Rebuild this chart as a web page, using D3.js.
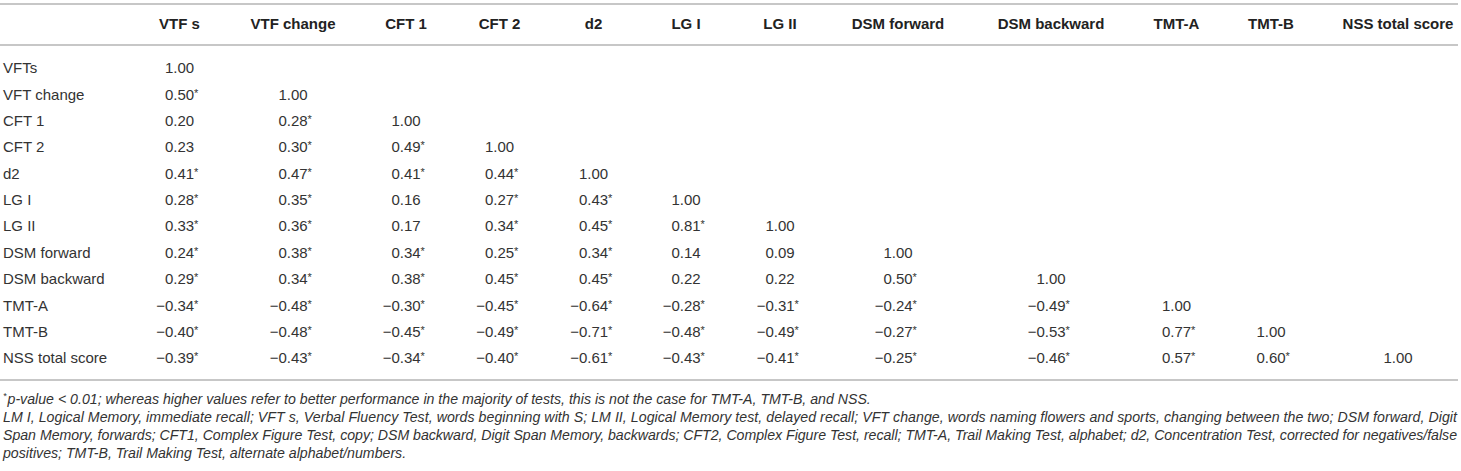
<!DOCTYPE html>
<html>
<head>
<meta charset="utf-8">
<script src="https://cdn.jsdelivr.net/npm/d3@7"></script>
<style>
  html, body { margin: 0; padding: 0; background: #fff; }
  svg { display: block; }
</style>
</head>
<body>
<svg id="chart" width="1461" height="471"></svg>
<script>
// ---- data ----
const columns = ["VTF s", "VTF change", "CFT 1", "CFT 2", "d2", "LG I", "LG II",
  "DSM forward", "DSM backward", "TMT-A", "TMT-B", "NSS total score"];
const rowLabels = ["VFTs", "VFT change", "CFT 1", "CFT 2", "d2", "LG I", "LG II",
  "DSM forward", "DSM backward", "TMT-A", "TMT-B", "NSS total score"];
const rVFTs = [1.00];
const rVFTchange = [0.50, 1.00];
const rCFT1 = [0.20, 0.28, 1.00];
const rCFT2 = [0.23, 0.30, 0.49, 1.00];
const rD2 = [0.41, 0.47, 0.41, 0.44, 1.00];
const rLG1 = [0.28, 0.35, 0.16, 0.27, 0.43, 1.00];
const rLG2 = [0.33, 0.36, 0.17, 0.34, 0.45, 0.81, 1.00];
const rDSMf = [0.24, 0.38, 0.34, 0.25, 0.34, 0.14, 0.09, 1.00];
const rDSMb = [0.29, 0.34, 0.38, 0.45, 0.45, 0.22, 0.22, 0.50, 1.00];
const rTMTA = [-0.34, -0.48, -0.30, -0.45, -0.64, -0.28, -0.31, -0.24, -0.49, 1.00];
const rTMTB = [-0.40, -0.48, -0.45, -0.49, -0.71, -0.48, -0.49, -0.27, -0.53, 0.77, 1.00];
const rNSS = [-0.39, -0.43, -0.34, -0.40, -0.61, -0.43, -0.41, -0.25, -0.46, 0.57, 0.60, 1.00];
// significance flags (p < 0.01)
const sVFTs = [0];
const sVFTchange = [1, 0];
const sCFT1 = [0, 1, 0];
const sCFT2 = [0, 1, 1, 0];
const sD2 = [1, 1, 1, 1, 0];
const sLG1 = [1, 1, 0, 1, 1, 0];
const sLG2 = [1, 1, 0, 1, 1, 1, 0];
const sDSMf = [1, 1, 1, 1, 1, 0, 0, 0];
const sDSMb = [1, 1, 1, 1, 1, 0, 0, 1, 0];
const sTMTA = [1, 1, 1, 1, 1, 1, 1, 1, 1, 0];
const sTMTB = [1, 1, 1, 1, 1, 1, 1, 1, 1, 1, 0];
const sNSS = [1, 1, 1, 1, 1, 1, 1, 1, 1, 1, 1, 0];

const footnote1 = "p-value < 0.01; whereas higher values refer to better performance in the majority of tests, this is not the case for TMT-A, TMT-B, and NSS.";
const footLines = [
  "LM I, Logical Memory, immediate recall; VFT s, Verbal Fluency Test, words beginning with S; LM II, Logical Memory test, delayed recall; VFT change, words naming flowers and sports, changing between the two; DSM forward, Digit",
  "Span Memory, forwards; CFT1, Complex Figure Test, copy; DSM backward, Digit Span Memory, backwards; CFT2, Complex Figure Test, recall; TMT-A, Trail Making Test, alphabet; d2, Concentration Test, corrected for negatives/false",
  "positives; TMT-B, Trail Making Test, alternate alphabet/numbers."
];

const rowsVals = [rVFTs, rVFTchange, rCFT1, rCFT2, rD2, rLG1, rLG2, rDSMf, rDSMb, rTMTA, rTMTB, rNSS];
const rowsSig = [sVFTs, sVFTchange, sCFT1, sCFT2, sD2, sLG1, sLG2, sDSMf, sDSMb, sTMTA, sTMTB, sNSS];

// ---- layout ----
const FONT = "'Liberation Sans', Arial, Helvetica, sans-serif";
const colCenters = [179.5, 293, 406, 499.5, 593.5, 686, 780, 898, 1051, 1176.5, 1271, 1398];
const x = d3.scaleOrdinal().domain(columns).range(colCenters);
const y = d3.scalePoint().domain(rowLabels).range([73.3, 363.3]);
const lineColor = "#b4b4b4";
const tableRight = 1458;

const svg = d3.select("#chart").style("font-family", FONT);

// rules
[4, 45, 380].forEach(yy => {
  svg.append("line").attr("x1", 0).attr("x2", tableRight)
    .attr("y1", yy).attr("y2", yy)
    .attr("stroke", lineColor).attr("stroke-width", 1.3);
});

// header
svg.append("g").selectAll("text").data(columns).join("text")
  .attr("x", d => x(d)).attr("y", 28.5)
  .attr("text-anchor", "middle")
  .attr("font-size", 15).attr("font-weight", "bold").attr("fill", "#222")
  .text(d => d);

// row labels
svg.append("g").selectAll("text").data(rowLabels).join("text")
  .attr("x", 3).attr("y", d => y(d))
  .attr("font-size", 15).attr("fill", "#333")
  .text(d => d);

// measure width of "1.00" for decimal alignment
const probe = svg.append("text").attr("font-size", 15).text("1.00");
const w100 = probe.node().getComputedTextLength();
probe.remove();

const fmt = d3.format(".2f");
const cells = [];
rowsVals.forEach((vals, ri) => {
  vals.forEach((v, ci) => {
    cells.push({ row: rowLabels[ri], col: columns[ci], v, sig: rowsSig[ri][ci] });
  });
});

const cg = svg.append("g").attr("font-size", 15).attr("fill", "#333");
const cell = cg.selectAll("g").data(cells).join("g")
  .attr("transform", d => `translate(${x(d.col) - w100 / 2},${y(d.row)})`);
cell.filter(d => d.v < 0).append("text")
  .attr("text-anchor", "end").attr("x", 0).text("\u2212");
const num = cell.append("text").attr("x", 0);
num.append("tspan").text(d => fmt(Math.abs(d.v)));
num.filter(d => d.sig).append("tspan")
  .attr("font-size", 11).attr("dy", -3).text("*");

// footnotes: fit font size so that first footnote spans like the original
const fprobe = svg.append("text").attr("font-size", 13).attr("font-style", "italic").text(footnote1);
const fw = fprobe.node().getComputedTextLength();
fprobe.remove();
const fSize = Math.min(15, Math.max(12, 13 * 864 / fw));

const fg = svg.append("g").attr("font-size", fSize).attr("font-style", "italic").attr("fill", "#333");
const f1 = fg.append("text").attr("x", 3).attr("y", 404);
f1.append("tspan").attr("font-size", 9).attr("dy", -5).text("*");
f1.append("tspan").attr("dy", 5).attr("dx", 1).text(footnote1);

fg.selectAll("text.fl").data(footLines).join("text").attr("class", "fl")
  .attr("x", 3).attr("y", (d, i) => 422 + i * 18)
  .each(function (d, i) {
    const t = d3.select(this).text(d);
    if (i < footLines.length - 1) {
      t.attr("textLength", 1457 - 3).attr("lengthAdjust", "spacing");
    }
  });
</script>
</body>
</html>
